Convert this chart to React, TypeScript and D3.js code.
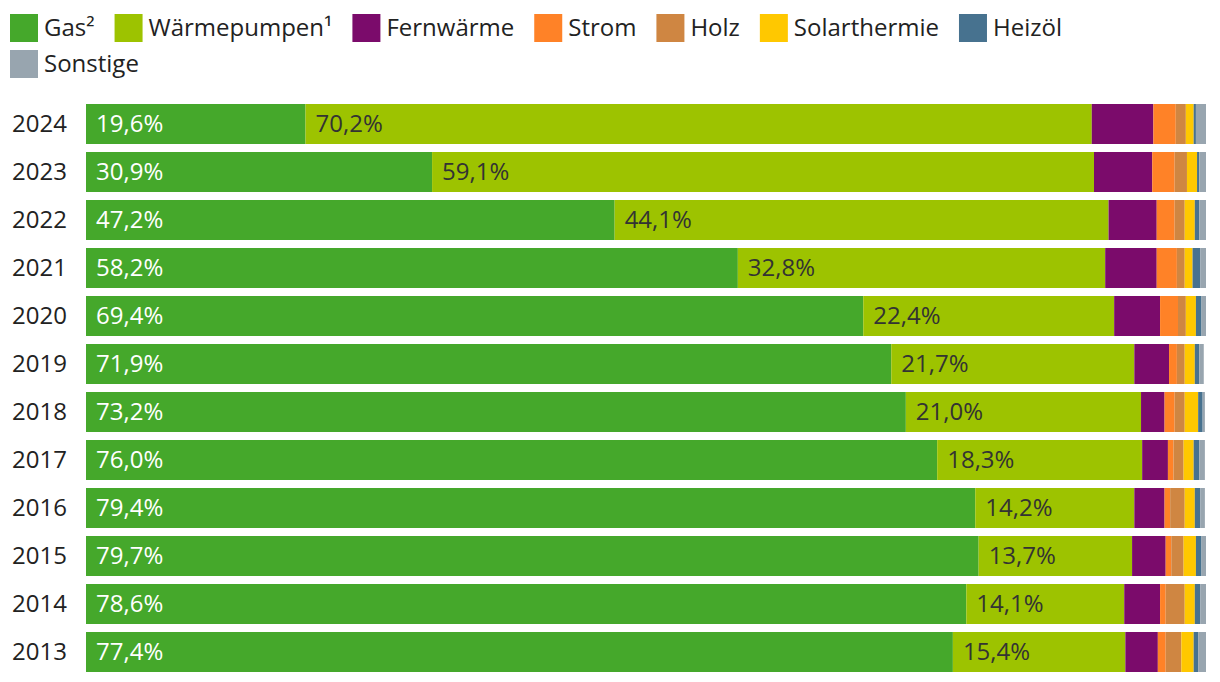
import React from "react";
import * as d3 from "d3";

const years = ["2024","2023","2022","2021","2020","2019","2018","2017","2016","2015","2014","2013"];
const gas = [19.6,30.9,47.2,58.2,69.4,71.9,73.2,76.0,79.4,79.7,78.6,77.4];
const waermepumpen = [70.2,59.1,44.1,32.8,22.4,21.7,21.0,18.3,14.2,13.7,14.1,15.4];
const fernwaerme = [5.5,5.2,4.3,4.6,4.1,3.1,2.1,2.3,2.7,3.0,3.2,2.9];
const strom = [2.0,2.0,1.6,1.8,1.6,0.7,0.9,0.5,0.5,0.5,0.5,0.7];
const holz = [0.9,1.1,0.9,0.7,0.7,0.7,0.9,0.9,1.3,1.1,1.7,1.4];
const solarthermie = [0.7,0.9,0.9,0.7,0.9,0.9,1.2,0.9,0.9,1.1,0.9,1.1];
const heizoel = [0.2,0.2,0.4,0.7,0.5,0.4,0.4,0.5,0.5,0.5,0.5,0.4];
const sonstige = [0.9,0.6,0.6,0.5,0.4,0.4,0.2,0.5,0.4,0.4,0.5,0.7];

const seriesKeys = ["gas","wp","fern","strom","holz","solar","heizoel","sonst"];
const seriesNames = ["Gas²","Wärmepumpen¹","Fernwärme","Strom","Holz","Solarthermie","Heizöl","Sonstige"];
const seriesValues = [gas, waermepumpen, fernwaerme, strom, holz, solarthermie, heizoel, sonstige];
const seriesColors = ["#45a82b","#9dc300","#7b0b6b","#ff8227","#cf8642","#ffc800","#47728f","#98a5af"];
const labelColors = ["#ffffff","#333333"];

const W = 1220, H = 682;
const FONT = "'Open Sans', 'Noto Sans', sans-serif";
const FS = 24;

function measure(text: string, size: number): number {
  try {
    const c = document.createElement("canvas");
    const ctx = c.getContext("2d");
    if (ctx) {
      ctx.font = `${size}px 'Open Sans'`;
      return ctx.measureText(text).width;
    }
  } catch (e) {}
  return text.length * size * 0.55;
}

const fmt = (v: number) => v.toFixed(1).replace(".", ",") + "%";

export default function App() {
  const table = years.map((y, i) => {
    const row: any = { year: y };
    seriesKeys.forEach((k, j) => (row[k] = seriesValues[j][i]));
    return row;
  });
  const stacked = d3.stack<any>().keys(seriesKeys)(table);

  const x = d3.scaleLinear().domain([0, 100]).range([86, 1206]);
  const y = d3.scaleBand<string>().domain(years).range([100, 100 + 12 * 48]).paddingInner(1 / 6).paddingOuter(1 / 12);

  // legend flow layout
  const sq = 28, gapText = 6, gapItem = 20, legendLeft = 10, legendRight = 1200;
  const legendItems: { name: string; color: string; x: number; y: number }[] = [];
  let lx = legendLeft, ly = 14;
  seriesNames.forEach((name, i) => {
    const w = sq + gapText + measure(name, FS);
    if (lx + w > legendRight) {
      lx = legendLeft;
      ly += 36;
    }
    legendItems.push({ name, color: seriesColors[i], x: lx, y: ly });
    lx += w + gapItem;
  });

  return (
    <svg width={W} height={H} style={{ position: "absolute", left: 0, top: 0, background: "#fff" }} fontFamily={FONT}>
      <g>
        {legendItems.map((it) => (
          <g key={it.name}>
            <rect x={it.x} y={it.y} width={sq} height={sq} fill={it.color} />
            <text x={it.x + sq + gapText} y={it.y + sq / 2 - 1.5} dominantBaseline="central" fontSize={FS} fill="#222">
              {it.name}
            </text>
          </g>
        ))}
      </g>
      <g>
        {years.map((yr) => (
          <text key={yr} x={12} y={(y(yr) as number) + y.bandwidth() / 2 - 1.5} dominantBaseline="central" fontSize={FS} fill="#222">
            {yr}
          </text>
        ))}
      </g>
      {stacked.map((s, si) => (
        <g key={s.key} fill={seriesColors[si]}>
          {s.map((d: any) => (
            <rect
              key={d.data.year}
              x={x(d[0])}
              y={y(d.data.year)}
              width={Math.max(0, x(d[1]) - x(d[0]))}
              height={y.bandwidth()}
            />
          ))}
        </g>
      ))}
      {stacked.slice(0, 2).map((s, si) => (
        <g key={"lbl" + s.key}>
          {s.map((d: any) => (
            <text
              key={d.data.year}
              x={x(d[0]) + 10}
              y={(y(d.data.year) as number) + y.bandwidth() / 2 - 1.5}
              dominantBaseline="central"
              fontSize={FS}
              fill={labelColors[si]}
            >
              {fmt(d[1] - d[0])}
            </text>
          ))}
        </g>
      ))}
    </svg>
  );
}
